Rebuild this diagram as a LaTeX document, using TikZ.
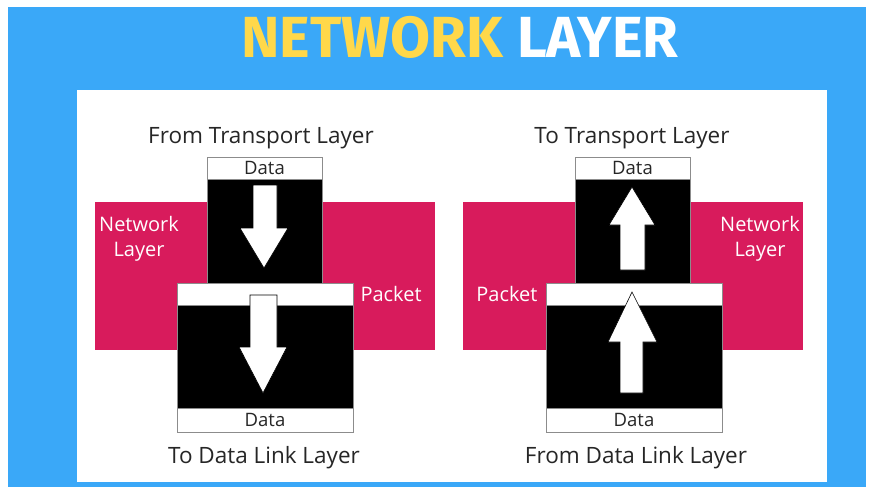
\documentclass[tikz,border=0pt]{standalone}
\usepackage{fontspec}
\setmainfont{Open Sans}
\newfontfamily\titlefont{Fira Sans}
\definecolor{skyblue}{HTML}{3AA8F8}
\definecolor{layerpink}{HTML}{D81B5C}
\definecolor{titleyellow}{HTML}{FFD84A}
\tikzset{
  layerbox/.style={fill=layerpink, draw=none},
  strip/.style={fill=white, draw=black!45, line width=0.5pt},
  blackbox/.style={fill=black, draw=black!45, line width=0.5pt},
  whitearrow/.style={fill=white, draw=black, line width=0.6pt},
  caption/.style={font=\fontsize{22.5}{26}\selectfont, text=black!85},
  datalabel/.style={font=\fontsize{18.5}{21}\selectfont, text=black!85},
  pinklabel/.style={font=\fontsize{20}{25}\selectfont, text=white, align=center}
}
\begin{document}
\begin{tikzpicture}[x=1pt, y=-1pt]
    \useasboundingbox (0,0) rectangle (870,493);
    % Background
    \fill[skyblue] (8,7) rectangle (866,487);
    \fill[white] (77,90) rectangle (827,482);

    % Title
    \node[font=\titlefont\bfseries\fontsize{58}{64}\selectfont, inner sep=0]
      (title) at (460,37) {\textcolor{titleyellow}{NETWORK} \textcolor{white}{LAYER}};

    % Left panel: sending side
    \fill[layerbox] (95,202) rectangle (435,350);
    \node[pinklabel] (netL) at (139,239) {Network\\Layer};
    \node[pinklabel, anchor=west] (pktL) at (357,294) {Packet};

    \draw[strip] (207,157) rectangle (322,179);
    \node[datalabel] (dataTL) at (264.5,168) {Data};
    \draw[blackbox] (207,179) rectangle (322,283);
    \draw[strip] (177,283) rectangle (353,305);
    \draw[blackbox] (177,305) rectangle (353,408);
    \draw[strip] (177,408) rectangle (353,432);
    \node[datalabel] (dataBL) at (265,420) {Data};

    % Down arrows
    \draw[whitearrow] (253,185) -- (277,185) -- (277,228) -- (288,228) -- (264,268)
      -- (240,228) -- (253,228) -- cycle;
    \draw[whitearrow] (250,295) -- (277,295) -- (277,347) -- (287,347) -- (263,393)
      -- (239,347) -- (250,347) -- cycle;

    \node[caption] (fromTL) at (261,138) {From Transport Layer};
    \node[caption] (toDL) at (264,458) {To Data Link Layer};

    % Right panel: receiving side
    \fill[layerbox] (463,202) rectangle (803,350);
    \node[pinklabel] (netR) at (760,239) {Network\\Layer};
    \node[pinklabel, anchor=east] (pktR) at (541,294) {Packet};

    \draw[strip] (575,157) rectangle (690,179);
    \node[datalabel] (dataTR) at (632.5,168) {Data};
    \draw[blackbox] (575,179) rectangle (690,283);
    \draw[strip] (546,283) rectangle (722,305);
    \draw[blackbox] (546,305) rectangle (722,408);
    \draw[strip] (546,408) rectangle (722,432);
    \node[datalabel] (dataBR) at (634,420) {Data};

    % Up arrows
    \draw[whitearrow] (632,187) -- (655,225) -- (645,225) -- (645,270) -- (620,270)
      -- (620,225) -- (609,225) -- cycle;
    \draw[whitearrow] (632,292) -- (657,342) -- (643,342) -- (643,393) -- (620,393)
      -- (620,342) -- (608,342) -- cycle;

    \node[caption] (toTL) at (632,138) {To Transport Layer};
    \node[caption] (fromDL) at (636,458) {From Data Link Layer};
\end{tikzpicture}
\end{document}
